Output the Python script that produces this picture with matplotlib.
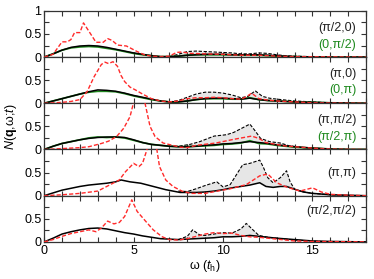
import numpy as np
import matplotlib
matplotlib.use('Agg')
import matplotlib.pyplot as plt
from matplotlib.ticker import MultipleLocator, FixedLocator

plt.rcParams['font.family'] = ['Liberation Sans', 'DejaVu Sans']
plt.rcParams['mathtext.fontset'] = 'custom'
plt.rcParams['mathtext.rm'] = 'Liberation Sans'
plt.rcParams['mathtext.it'] = 'Liberation Sans:italic'
plt.rcParams['mathtext.bf'] = 'Liberation Sans:bold'

# ---- panel labels ----
labels_black = ['(π/2,0)', '(π,0)', '(π,π/2)', '(π,π)', '(π/2,π/2)']
labels_green = ['(0,π/2)', '(0,π)', '(π/2,π)', None, None]
label_y = [0.63, 0.64, 0.64, 0.5, 0.67]

# ---- panel 1: (pi/2,0) ----
p1_solid_w = [0, 0.5, 1, 1.5, 2, 2.5, 3, 3.5, 4, 4.5, 5, 5.5, 6, 6.5, 7, 7.5, 8, 8.5, 9,
              9.5, 10, 10.5, 11, 11.5, 12, 12.5, 13, 13.5, 14, 15, 16, 18]
p1_solid_v = [0, 0.07, 0.15, 0.21, 0.24, 0.25, 0.24, 0.21, 0.17, 0.13, 0.09, 0.06, 0.03, 0.01,
              0.01, 0.02, 0.04, 0.05, 0.06, 0.06, 0.06, 0.05, 0.05, 0.05, 0.05, 0.04, 0.03, 0.02,
              0.01, 0.005, 0, 0]
p1_green_v = [0, 0.07, 0.15, 0.2, 0.22, 0.23, 0.22, 0.19, 0.16, 0.12, 0.08, 0.05, 0.03, 0.01,
              0.01, 0.02, 0.04, 0.05, 0.05, 0.05, 0.05, 0.05, 0.04, 0.04, 0.04, 0.03, 0.02, 0.01,
              0.01, 0, 0, 0]
p1_dash_w = [7, 7.5, 8, 8.5, 9, 9.5, 10, 10.5, 11, 11.5, 12, 12.5, 13, 13.5, 14, 15, 16]
p1_dash_v = [0.01, 0.06, 0.12, 0.13, 0.12, 0.11, 0.1, 0.09, 0.07, 0.07, 0.09, 0.08, 0.05, 0.03,
             0.02, 0.01, 0]
p1_red_w = [0, 0.5, 1.0, 1.3, 1.5, 1.7, 2.0, 2.2, 2.55, 2.9, 3.3, 3.55, 3.8, 4.1, 4.6, 5.2,
            5.6, 6.0, 6.5, 7.0, 7.4, 7.7, 8.2, 9.0, 10, 11, 12, 13, 14, 18]
p1_red_v = [0, 0.06, 0.33, 0.33, 0.38, 0.53, 0.53, 0.74, 0.53, 0.32, 0.32, 0.40, 0.36, 0.26,
            0.24, 0.12, 0.05, 0.02, 0.01, 0.02, 0.1, 0.11, 0.08, 0.07, 0.06, 0.04, 0.04, 0.02,
            0.01, 0]

# ---- panel 2: (pi,0) ----
p2_solid_w = [0, 0.5, 1, 1.5, 2, 2.5, 3, 3.5, 4, 4.5, 5, 5.5, 6, 6.5, 7, 7.5, 8, 8.5, 9, 9.5,
              10, 10.5, 11, 11.5, 12, 12.5, 13, 14, 15, 16, 18]
p2_solid_v = [0, 0.05, 0.1, 0.15, 0.2, 0.25, 0.29, 0.28, 0.26, 0.22, 0.17, 0.13, 0.09, 0.05,
              0.03, 0.03, 0.05, 0.08, 0.1, 0.11, 0.11, 0.1, 0.09, 0.11, 0.08, 0.06, 0.05, 0.03,
              0.02, 0.01, 0]
p2_green_v = [0, 0.05, 0.1, 0.15, 0.2, 0.24, 0.26, 0.26, 0.25, 0.21, 0.16, 0.12, 0.08, 0.05,
              0.03, 0.03, 0.05, 0.08, 0.1, 0.1, 0.1, 0.09, 0.09, 0.12, 0.08, 0.06, 0.05, 0.03,
              0.02, 0.01, 0]
p2_dash_w = [7, 7.5, 8, 8.5, 9, 9.5, 10, 10.5, 11, 11.4, 11.8, 12.2, 12.6, 13, 14, 15, 16, 17]
p2_dash_v = [0.03, 0.06, 0.13, 0.2, 0.24, 0.24, 0.22, 0.18, 0.12, 0.15, 0.27, 0.15, 0.11, 0.09,
             0.05, 0.03, 0.01, 0]
p2_red_w = [0, 1, 1.5, 2.0, 2.4, 2.8, 3.2, 3.4, 3.6, 3.85, 4.1, 4.3, 4.5, 4.8, 5.1, 5.5, 6.0,
            6.5, 7, 7.5, 8, 8.5, 9, 9.5, 10, 10.5, 11, 11.3, 11.6, 12.0, 12.5, 13, 14, 15, 16, 18]
p2_red_v = [0, 0.02, 0.04, 0.08, 0.25, 0.58, 0.84, 0.89, 0.86, 0.9, 0.8, 0.6, 0.47, 0.35, 0.29,
            0.2, 0.1, 0.05, 0.03, 0.05, 0.1, 0.12, 0.12, 0.13, 0.12, 0.1, 0.09, 0.14, 0.22, 0.1,
            0.07, 0.05, 0.03, 0.01, 0.005, 0]

# ---- panel 3: (pi,pi/2) ----
p3_solid_w = [0, 0.5, 1, 1.5, 2, 2.5, 3, 3.5, 4, 4.5, 5, 5.5, 6, 6.5, 7, 7.5, 8, 8.5, 9, 9.5,
              10, 10.5, 11, 11.5, 12, 12.5, 13, 13.5, 14, 15, 16, 17, 18]
p3_solid_v = [0, 0.07, 0.13, 0.17, 0.21, 0.24, 0.26, 0.27, 0.27, 0.26, 0.21, 0.15, 0.11, 0.09,
              0.07, 0.06, 0.06, 0.07, 0.09, 0.1, 0.12, 0.13, 0.15, 0.17, 0.15, 0.13, 0.1, 0.08,
              0.06, 0.03, 0.01, 0, 0]
p3_green_v = [0, 0.07, 0.13, 0.17, 0.21, 0.25, 0.27, 0.26, 0.27, 0.25, 0.2, 0.15, 0.11, 0.09,
              0.07, 0.06, 0.06, 0.07, 0.08, 0.09, 0.11, 0.12, 0.14, 0.19, 0.13, 0.12, 0.09, 0.07,
              0.05, 0.03, 0.01, 0, 0]
p3_dash_w = [7, 7.5, 8.15, 8.7, 9.5, 10.2, 10.6, 11.1, 11.5, 11.8, 12.1, 12.6, 13.2, 13.7,
             14.5, 15, 16, 17]
p3_dash_v = [0.07, 0.07, 0.11, 0.17, 0.29, 0.32, 0.37, 0.47, 0.55, 0.4, 0.24, 0.17, 0.14, 0.08,
             0.04, 0.03, 0.01, 0]
p3_red_w = [0, 1, 2, 2.5, 3.2, 3.6, 4.05, 4.45, 4.8, 4.99, 5.3, 5.64, 5.92, 6.2, 6.65, 7.6, 8,
            8.5, 9.6, 10.6, 11.6, 12.0, 12.4, 13.4, 14, 15, 16, 18]
p3_red_v = [0, 0.02, 0.04, 0.06, 0.13, 0.18, 0.28, 0.46, 0.71, 1.0, 1.6, 1.0, 0.5, 0.28, 0.14,
            0.05, 0.04, 0.09, 0.14, 0.22, 0.29, 0.24, 0.15, 0.08, 0.06, 0.03, 0.01, 0]

# ---- panel 4: (pi,pi) ----
p4_solid_w = [0, 0.5, 1, 1.5, 2, 2.5, 3, 3.5, 4, 4.3, 4.8, 5.4, 5.9, 6.4, 6.8, 7.2, 7.6, 8,
              8.5, 9, 9.5, 10, 10.5, 11, 11.5, 12.05, 12.4, 12.8, 13.2, 13.55, 14, 14.5, 15, 16,
              17, 18]
p4_solid_v = [0, 0.06, 0.12, 0.16, 0.2, 0.23, 0.25, 0.27, 0.3, 0.34, 0.3, 0.27, 0.22, 0.17,
              0.13, 0.1, 0.07, 0.07, 0.07, 0.08, 0.1, 0.13, 0.17, 0.2, 0.23, 0.28, 0.2, 0.18,
              0.2, 0.2, 0.14, 0.08, 0.05, 0.02, 0.01, 0]
p4_dash_w = [7.5, 8, 8.5, 9, 9.65, 10.0, 10.4, 11.1, 11.5, 11.9, 12.05, 12.25, 12.5, 12.8,
             13.2, 13.55, 13.75, 14.0, 14.4, 15, 16, 17]
p4_dash_v = [0.1, 0.09, 0.15, 0.22, 0.3, 0.19, 0.24, 0.67, 0.7, 0.75, 0.77, 0.62, 0.39, 0.28,
             0.39, 0.54, 0.3, 0.14, 0.09, 0.05, 0.02, 0]
p4_red_w = [0, 1, 2, 3, 3.5, 4.2, 4.55, 5.0, 5.3, 5.5, 5.75, 6.0, 6.3, 6.45, 6.8, 7.2, 7.7,
            8.2, 9, 10.4, 11.3, 12.05, 12.5, 13.0, 13.6, 14.3, 15.0, 15.5, 16, 17, 18]
p4_red_v = [0, 0.02, 0.05, 0.1, 0.2, 0.34, 0.52, 0.7, 0.63, 0.7, 1.0, 1.6, 1.0, 0.63, 0.34,
            0.2, 0.1, 0.05, 0.05, 0.15, 0.24, 0.43, 0.47, 0.28, 0.18, 0.1, 0.17, 0.08, 0.03,
            0.01, 0]

# ---- panel 5: (pi/2,pi/2) ----
p5_solid_w = [0, 0.5, 1, 1.5, 2, 2.5, 3, 3.5, 4, 4.5, 5, 5.5, 6, 6.5, 7, 7.5, 8, 8.5, 9, 9.5,
              10, 10.5, 11, 11.5, 12, 12.5, 13, 14, 15, 16, 18]
p5_solid_v = [0, 0.08, 0.17, 0.22, 0.26, 0.29, 0.3, 0.28, 0.24, 0.2, 0.17, 0.13, 0.1, 0.07,
              0.06, 0.05, 0.06, 0.07, 0.08, 0.09, 0.11, 0.11, 0.12, 0.14, 0.12, 0.1, 0.08, 0.05,
              0.02, 0.01, 0]
p5_dash_w = [7.5, 8, 8.3, 8.7, 9, 9.5, 10, 10.5, 11, 11.3, 11.7, 12, 12.5, 13, 14, 15, 16]
p5_dash_v = [0.05, 0.12, 0.26, 0.15, 0.14, 0.17, 0.2, 0.19, 0.28, 0.4, 0.25, 0.14, 0.1, 0.08,
             0.04, 0.02, 0]
p5_red_w = [0, 0.5, 1, 1.5, 2, 2.5, 2.9, 3.2, 3.55, 3.9, 4.2, 4.5, 4.9, 5.2, 5.6, 6.1, 6.6, 7,
            7.5, 8, 8.5, 9, 9.5, 10, 10.5, 11, 11.5, 12, 13, 14, 15, 18]
p5_red_v = [0, 0.05, 0.12, 0.18, 0.22, 0.26, 0.22, 0.3, 0.45, 0.39, 0.42, 0.55, 0.91, 0.66,
            0.48, 0.26, 0.11, 0.05, 0.04, 0.07, 0.12, 0.17, 0.2, 0.18, 0.19, 0.14, 0.11, 0.1,
            0.06, 0.02, 0.01, 0]

panels = [
    (p1_solid_w, p1_solid_v, p1_green_v, p1_dash_w, p1_dash_v, p1_red_w, p1_red_v),
    (p2_solid_w, p2_solid_v, p2_green_v, p2_dash_w, p2_dash_v, p2_red_w, p2_red_v),
    (p3_solid_w, p3_solid_v, p3_green_v, p3_dash_w, p3_dash_v, p3_red_w, p3_red_v),
    (p4_solid_w, p4_solid_v, None, p4_dash_w, p4_dash_v, p4_red_w, p4_red_v),
    (p5_solid_w, p5_solid_v, None, p5_dash_w, p5_dash_v, p5_red_w, p5_red_v),
]

GREEN = '#1f8a1f'
RED = '#ff2a2a'
SPINE = '#333333'
FS = 9

fig = plt.figure(figsize=(3.74, 2.79), dpi=100)
left, right, top, bottom = 0.118, 0.979, 0.961, 0.133
h = (top - bottom) / 5

axes = []
for i, (sw, sv, gv, dw, dv, rw, rv) in enumerate(panels):
    ax = fig.add_axes([left, top - (i + 1) * h, right - left, h])
    axes.append(ax)

    # grey area between solid and dashed black
    base = np.interp(dw, sw, sv)
    ax.fill_between(dw, base, dv, where=np.array(dv) >= base, color='#e6e6e6', lw=0, zorder=1)
    ax.plot(dw, dv, color='black', lw=0.8, ls=(0, (3, 1.5)), zorder=2)
    if gv is not None:
        ax.plot(sw, gv, color=GREEN, lw=1.3, zorder=3)
    ax.plot(sw, sv, color='black', lw=1.1, zorder=4)
    ax.plot(rw, rv, color=RED, lw=1.0, ls=(0, (3, 1.5)), zorder=5)

    ax.set_xlim(0, 18)
    ax.set_ylim(0, 1)
    ax.xaxis.set_major_locator(MultipleLocator(5))
    ax.xaxis.set_minor_locator(MultipleLocator(1))
    if i == 0:
        ax.yaxis.set_major_locator(FixedLocator([0, 0.5, 1]))
        ax.set_yticklabels(['0', '0.5', '1'])
    else:
        ax.yaxis.set_major_locator(FixedLocator([0, 0.5]))
        ax.set_yticklabels(['0', '0.5'])
    ax.yaxis.set_minor_locator(FixedLocator([0.25, 0.75]))
    ax.tick_params(which='both', direction='in', top=True, right=True,
                   length=3.5, width=0.8, color=SPINE, labelsize=FS, pad=2)
    for sp in ax.spines.values():
        sp.set_color(SPINE)
        sp.set_linewidth(0.9)
    if i < 4:
        ax.tick_params(labelbottom=False)

    ax.text(0.969, label_y[i], labels_black[i], transform=ax.transAxes,
            ha='right', va='center', fontsize=FS, color='#222222')
    if labels_green[i]:
        ax.text(0.969, label_y[i] - 0.36, labels_green[i], transform=ax.transAxes,
                ha='right', va='center', fontsize=FS, color=GREEN)

axes[-1].set_xlabel(r'ω ($t_\mathrm{h}$)', fontsize=FS, labelpad=1)
fig.text(0.03, (top + bottom) / 2, r'$N$($\mathbf{q}$,ω;$t$)', rotation=90,
         ha='center', va='center', fontsize=FS)

fig.savefig('out.png', dpi=100)
